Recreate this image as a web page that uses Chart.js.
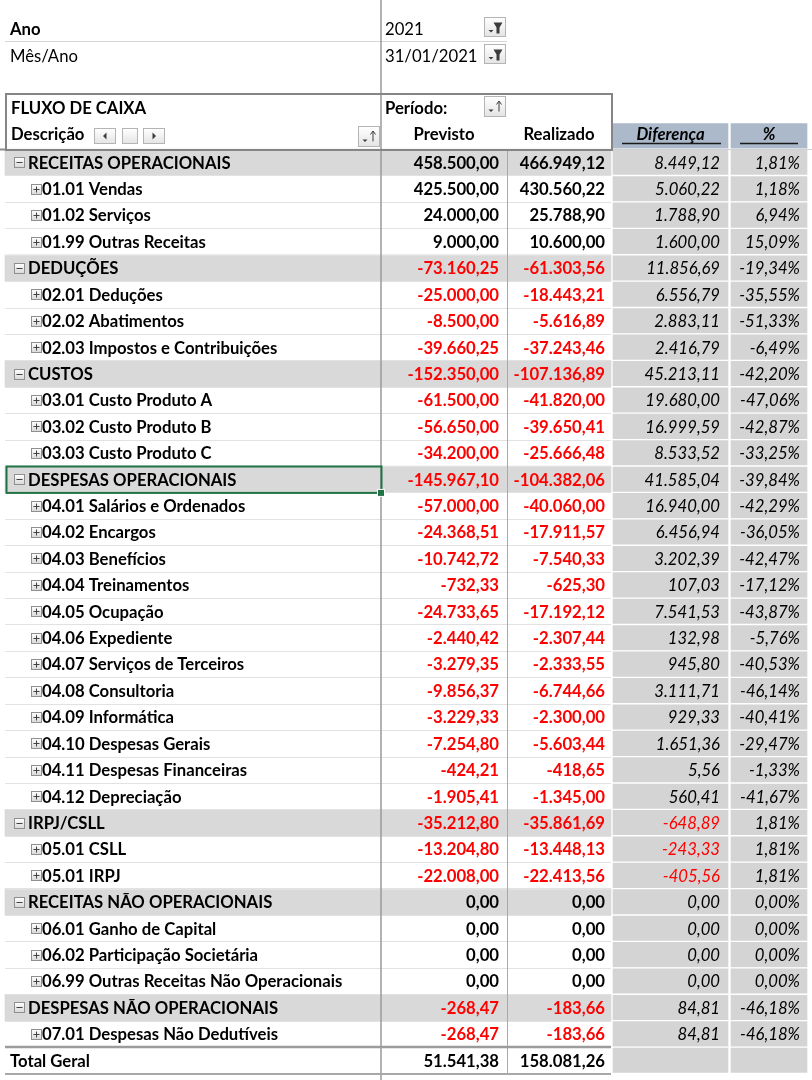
<!DOCTYPE html>
<html lang="pt-BR">
<head>
<meta charset="utf-8">
<title>Fluxo de Caixa</title>
<script src="https://cdn.jsdelivr.net/npm/chart.js@4.4.1/dist/chart.umd.min.js"></script>
<style>
  html, body { margin: 0; padding: 0; background: #fff; }
  #wrap { position: relative; width: 812px; height: 1080px; }
</style>
</head>
<body>
<div id="wrap"><canvas id="fluxoChart"></canvas></div>
<script>
// filtros do relatório e cabeçalhos
const filterLabels = ["Ano", "Mês/Ano"];
const filterValues = ["2021", "31/01/2021"];
const pivotTitle = "FLUXO DE CAIXA";
const rowFieldLabel = "Descrição";
const periodLabel = "Período:";
const columnLabels = ["Previsto", "Realizado", "Diferença", "%"];

// linhas da tabela dinâmica
const categories = [
  "RECEITAS OPERACIONAIS", "01.01 Vendas", "01.02 Serviços", "01.99 Outras Receitas",
  "DEDUÇÕES", "02.01 Deduções", "02.02 Abatimentos", "02.03 Impostos e Contribuições",
  "CUSTOS", "03.01 Custo Produto A", "03.02 Custo Produto B", "03.03 Custo Produto C",
  "DESPESAS OPERACIONAIS", "04.01 Salários e Ordenados", "04.02 Encargos", "04.03 Benefícios",
  "04.04 Treinamentos", "04.05 Ocupação", "04.06 Expediente", "04.07 Serviços de Terceiros",
  "04.08 Consultoria", "04.09 Informática", "04.10 Despesas Gerais", "04.11 Despesas Financeiras",
  "04.12 Depreciação", "IRPJ/CSLL", "05.01 CSLL", "05.01 IRPJ",
  "RECEITAS NÃO OPERACIONAIS", "06.01 Ganho de Capital", "06.02 Participação Societária",
  "06.99 Outras Receitas Não Operacionais", "DESPESAS NÃO OPERACIONAIS",
  "07.01 Despesas Não Dedutíveis", "Total Geral"
];
const rowTypes = [
  "group", "item", "item", "item",
  "group", "item", "item", "item",
  "group", "item", "item", "item",
  "group", "item", "item", "item", "item", "item", "item", "item", "item", "item", "item", "item", "item",
  "group", "item", "item",
  "group", "item", "item", "item",
  "group", "item",
  "total"
];
const previsto = [
  458500.00, 425500.00, 24000.00, 9000.00,
  -73160.25, -25000.00, -8500.00, -39660.25,
  -152350.00, -61500.00, -56650.00, -34200.00,
  -145967.10, -57000.00, -24368.51, -10742.72, -732.33, -24733.65, -2440.42, -3279.35,
  -9856.37, -3229.33, -7254.80, -424.21, -1905.41,
  -35212.80, -13204.80, -22008.00,
  0, 0, 0, 0,
  -268.47, -268.47,
  51541.38
];
const realizado = [
  466949.12, 430560.22, 25788.90, 10600.00,
  -61303.56, -18443.21, -5616.89, -37243.46,
  -107136.89, -41820.00, -39650.41, -25666.48,
  -104382.06, -40060.00, -17911.57, -7540.33, -625.30, -17192.12, -2307.44, -2333.55,
  -6744.66, -2300.00, -5603.44, -418.65, -1345.00,
  -35861.69, -13448.13, -22413.56,
  0, 0, 0, 0,
  -183.66, -183.66,
  158081.26
];
const diferenca = [
  8449.12, 5060.22, 1788.90, 1600.00,
  11856.69, 6556.79, 2883.11, 2416.79,
  45213.11, 19680.00, 16999.59, 8533.52,
  41585.04, 16940.00, 6456.94, 3202.39, 107.03, 7541.53, 132.98, 945.80,
  3111.71, 929.33, 1651.36, 5.56, 560.41,
  -648.89, -243.33, -405.56,
  0, 0, 0, 0,
  84.81, 84.81,
  null
];
const percentual = [
  1.81, 1.18, 6.94, 15.09,
  -19.34, -35.55, -51.33, -6.49,
  -42.20, -47.06, -42.87, -33.25,
  -39.84, -42.29, -36.05, -42.47, -17.12, -43.87, -5.76, -40.53,
  -46.14, -40.41, -29.47, -1.33, -41.67,
  1.81, 1.81, 1.81,
  0, 0, 0, 0,
  -46.18, -46.18,
  null
];
const selectedRow = "DESPESAS OPERACIONAIS";

// layout das colunas (unidades do eixo x = pixels da planilha)
const COL = { left: 5, sep: 381, mid: 507, right: 611, difL: 612, difR: 729, pctL: 730, pctR: 808 };
const FONT = "Lato, 'Open Sans', sans-serif";
const SIZE = 16.7;
const RED = "#ff0000";
const INK = "#000000";

const headerKeys = ["Ano", "Mês/Ano", "", pivotTitle, rowFieldLabel];
const HEADER_ROWS = headerKeys.length;
const yLabels = headerKeys.concat(categories);

function fmtBR(v) {
  const parts = Math.abs(v).toFixed(2).split(".");
  const intPart = parts[0].replace(/\B(?=(\d{3})+(?!\d))/g, ".");
  return (v < 0 ? "-" : "") + intPart + "," + parts[1];
}

const dataRow = i => i >= HEADER_ROWS;
const bandData = yLabels.map((_, i) => dataRow(i) && rowTypes[i - HEADER_ROWS] === "group" ? [COL.left, COL.right] : null);
const difCells = yLabels.map((_, i) => dataRow(i) ? [COL.difL, COL.difR] : null);
const pctCells = yLabels.map((_, i) => dataRow(i) ? [COL.pctL, COL.pctR] : null);
const headDif = yLabels.map((_, i) => i === HEADER_ROWS - 1 ? [COL.difL, COL.difR] : null);
const headPct = yLabels.map((_, i) => i === HEADER_ROWS - 1 ? [COL.pctL, COL.pctR] : null);

function drawToggle(ctx, cx, cy, plus) {
  const s = 10;
  const x0 = Math.round(cx - s / 2) + 0.5, y0 = Math.round(cy - s / 2) + 0.5;
  const g = ctx.createLinearGradient(0, y0, 0, y0 + s);
  g.addColorStop(0, "#ffffff");
  g.addColorStop(1, "#d8d8d8");
  ctx.fillStyle = g;
  ctx.fillRect(x0, y0, s, s);
  ctx.strokeStyle = "#8f8f8f";
  ctx.lineWidth = 1;
  ctx.strokeRect(x0, y0, s, s);
  ctx.strokeStyle = "#404040";
  ctx.beginPath();
  ctx.moveTo(x0 + 2, y0 + s / 2);
  ctx.lineTo(x0 + s - 2, y0 + s / 2);
  if (plus) {
    ctx.moveTo(x0 + s / 2, y0 + 2);
    ctx.lineTo(x0 + s / 2, y0 + s - 2);
  }
  ctx.stroke();
}

function drawButton(ctx, x0, y0, w, h, icon) {
  x0 = Math.round(x0) + 0.5; y0 = Math.round(y0) + 0.5;
  const g = ctx.createLinearGradient(0, y0, 0, y0 + h);
  g.addColorStop(0, "#ffffff");
  g.addColorStop(1, "#e4e4e4");
  ctx.fillStyle = g;
  ctx.fillRect(x0, y0, w, h);
  ctx.strokeStyle = "#b4b4b4";
  ctx.lineWidth = 1;
  ctx.strokeRect(x0, y0, w, h);
  ctx.fillStyle = "#3c3c3c";
  ctx.strokeStyle = "#3c3c3c";
  const cx = x0 + w / 2, cy = y0 + h / 2;
  if (icon === "filter" || icon === "sort") {
    // pequena seta do menu
    ctx.beginPath();
    ctx.moveTo(x0 + 4, cy + 3);
    ctx.lineTo(x0 + 9, cy + 3);
    ctx.lineTo(x0 + 6.5, cy + 5.5);
    ctx.closePath();
    ctx.fill();
  }
  if (icon === "filter") {
    ctx.beginPath();
    ctx.moveTo(x0 + 9, y0 + 5);
    ctx.lineTo(x0 + 18, y0 + 5);
    ctx.lineTo(x0 + 15, y0 + 10);
    ctx.lineTo(x0 + 15, y0 + 16);
    ctx.lineTo(x0 + 12, y0 + 16);
    ctx.lineTo(x0 + 12, y0 + 10);
    ctx.closePath();
    ctx.fill();
  } else if (icon === "sort") {
    ctx.lineWidth = 1;
    ctx.beginPath();
    ctx.moveTo(x0 + 14.5, y0 + 5);
    ctx.lineTo(x0 + 14.5, y0 + h - 5);
    ctx.stroke();
    ctx.beginPath();
    ctx.moveTo(x0 + 12, y0 + 8);
    ctx.lineTo(x0 + 14.5, y0 + 4.5);
    ctx.lineTo(x0 + 17, y0 + 8);
    ctx.stroke();
  } else if (icon === "left" || icon === "right") {
    const d = icon === "left" ? -1 : 1;
    ctx.beginPath();
    ctx.moveTo(cx + 2 * d, cy);
    ctx.lineTo(cx - 1.5 * d, cy - 3.5);
    ctx.lineTo(cx - 1.5 * d, cy + 3.5);
    ctx.closePath();
    ctx.fill();
  }
}

function hLine(ctx, x0, x1, yy, color, w) {
  ctx.strokeStyle = color;
  ctx.lineWidth = w;
  ctx.beginPath();
  ctx.moveTo(x0, yy);
  ctx.lineTo(x1, yy);
  ctx.stroke();
}
function vLine(ctx, xx, y0, y1, color, w) {
  ctx.strokeStyle = color;
  ctx.lineWidth = w;
  ctx.beginPath();
  ctx.moveTo(xx, y0);
  ctx.lineTo(xx, y1);
  ctx.stroke();
}

const pivotPlugin = {
  id: "pivotTable",
  afterDatasetsDraw(chart) {
    const { ctx, scales: { x, y } } = chart;
    const rowH = y.getPixelForValue(1) - y.getPixelForValue(0);
    const cy = i => y.getPixelForValue(i);
    const top = i => Math.round(cy(i) - rowH / 2) + 0.5;
    const px = v => x.getPixelForValue(v);
    const last = yLabels.length - 1;
    const H = chart.height;

    ctx.save();

    // grade das linhas
    for (let i = HEADER_ROWS + 1; i < last; i++) {
      hLine(ctx, px(COL.left), px(COL.right), top(i), "#e2e2e2", 1);
    }
    hLine(ctx, px(COL.left), px(COL.mid), top(1) - 2, "#d6d6d6", 1);
    vLine(ctx, Math.round(px(COL.mid)) + 0.5, top(HEADER_ROWS), top(last) + rowH, "#a8a8a8", 1);
    vLine(ctx, Math.round(px(COL.sep)), 0, H, "#9a9a9a", 1.5);
    hLine(ctx, px(COL.right), chart.width, top(HEADER_ROWS), "#d0d0d0", 1);

    // moldura do cabeçalho
    ctx.strokeStyle = "#858585";
    ctx.lineWidth = 2;
    ctx.strokeRect(px(COL.left) + 1, Math.round(top(3)) - 3, px(COL.right) - px(COL.left), top(HEADER_ROWS) - top(3) + 3);
    hLine(ctx, 0, px(COL.left), top(HEADER_ROWS), "#8c8c8c", 2);

    // Total Geral
    hLine(ctx, px(COL.left), px(COL.right), top(last) - 0.5, "#9c9c9c", 2.5);
    hLine(ctx, px(COL.left), px(COL.right), top(last) + rowH, "#a8a8a8", 2);

    ctx.textBaseline = "middle";
    const txt = (s, xx, yy, font, color, align) => {
      ctx.font = font;
      ctx.fillStyle = color;
      ctx.textAlign = align || "left";
      ctx.fillText(s, xx, yy + 1);
    };
    const bold = "bold " + SIZE + "px " + FONT;
    const normal = SIZE + "px " + FONT;
    const italic = "italic " + SIZE + "px " + FONT;
    const boldItalic = "italic bold " + SIZE + "px " + FONT;

    // filtros
    filterLabels.forEach((lab, i) => {
      txt(lab, px(10), cy(i) - 1.5, i === 0 ? bold : normal, INK);
      txt(filterValues[i], px(385), cy(i) - 1.5, normal, INK);
      drawButton(ctx, px(484), cy(i) - 13, 21, 19, "filter");
    });

    // cabeçalho da tabela dinâmica
    const hr = HEADER_ROWS - 1;
    txt(pivotTitle, px(11), cy(3) - 1.5, bold, INK);
    txt(periodLabel, px(385), cy(3) - 1.5, bold, INK);
    drawButton(ctx, px(484), cy(3) - 13, 21, 20, "sort");
    txt(rowFieldLabel, px(11), cy(hr) - 2, bold, INK);
    drawButton(ctx, px(94), cy(hr) - 8, 21, 15, "left");
    drawButton(ctx, px(122), cy(hr) - 8, 15, 15, "blank");
    drawButton(ctx, px(143), cy(hr) - 8, 21, 15, "right");
    drawButton(ctx, px(358), cy(hr) - 10, 21, 20, "sort");
    txt(columnLabels[0], (px(COL.sep) + px(COL.mid)) / 2, cy(hr) - 2, bold, INK, "center");
    txt(columnLabels[1], (px(COL.mid) + px(COL.right)) / 2, cy(hr) - 2, bold, INK, "center");
    txt(columnLabels[2], (px(COL.difL) + px(COL.difR)) / 2, cy(hr) - 2, boldItalic, INK, "center");
    txt(columnLabels[3], (px(COL.pctL) + px(COL.pctR)) / 2, cy(hr) - 2, boldItalic, INK, "center");
    const ulY = Math.round(cy(hr) + rowH / 2 - 6) + 0.5;
    hLine(ctx, px(COL.difL + 10), px(COL.difR - 8), ulY, "#1a1a1a", 1.5);
    hLine(ctx, px(COL.pctL + 10), px(COL.pctR - 10), ulY, "#1a1a1a", 1.5);

    // linhas de dados
    categories.forEach((name, k) => {
      const i = k + HEADER_ROWS;
      const t = rowTypes[k];
      const yy = cy(i);
      if (t === "group") {
        drawToggle(ctx, px(19), yy, false);
        txt(name, px(28), yy, bold, INK);
      } else if (t === "item") {
        drawToggle(ctx, px(36), yy, true);
        txt(name, px(42), yy, bold, INK);
      } else {
        txt(name, px(10), yy, bold, INK);
      }
      txt(fmtBR(previsto[k]), px(499), yy, bold, previsto[k] < 0 ? RED : INK, "right");
      txt(fmtBR(realizado[k]), px(605), yy, bold, realizado[k] < 0 ? RED : INK, "right");
      if (diferenca[k] !== null) {
        txt(fmtBR(diferenca[k]), px(720), yy, italic, diferenca[k] < 0 ? RED : INK, "right");
      }
      if (percentual[k] !== null) {
        txt(fmtBR(percentual[k]) + "%", px(800), yy, italic, INK, "right");
      }
    });

    // célula selecionada
    const s = categories.indexOf(selectedRow) + HEADER_ROWS;
    ctx.strokeStyle = "#217346";
    ctx.lineWidth = 2;
    ctx.strokeRect(px(COL.left) + 1.5, top(s), px(COL.sep) - px(COL.left) - 1, rowH);
    ctx.fillStyle = "#ffffff";
    ctx.fillRect(px(COL.sep) - 4, top(s) + rowH - 4, 8, 8);
    ctx.fillStyle = "#217346";
    ctx.fillRect(px(COL.sep) - 3, top(s) + rowH - 3, 6, 6);

    ctx.restore();
  }
};

const ctx = document.getElementById("fluxoChart");
new Chart(ctx, {
  type: "bar",
  data: {
    labels: yLabels,
    datasets: [
      { label: "faixa grupo", data: bandData, backgroundColor: "#d9d9d9", borderWidth: 0 },
      { label: "Diferença", data: difCells, backgroundColor: "#d4d4d4", borderColor: "#ffffff", borderWidth: 1, borderSkipped: false },
      { label: "%", data: pctCells, backgroundColor: "#d4d4d4", borderColor: "#ffffff", borderWidth: 1, borderSkipped: false },
      { label: "cab. Diferença", data: headDif, backgroundColor: "#acb9ca", borderColor: "#ffffff", borderWidth: 1, borderSkipped: false },
      { label: "cab. %", data: headPct, backgroundColor: "#acb9ca", borderColor: "#ffffff", borderWidth: 1, borderSkipped: false }
    ]
  },
  options: {
    indexAxis: "y",
    responsive: true,
    maintainAspectRatio: false,
    animation: false,
    events: [],
    layout: { padding: { top: 17, bottom: 6.5, left: 0, right: 0 } },
    plugins: { legend: { display: false }, tooltip: { enabled: false } },
    datasets: { bar: { barPercentage: 1, categoryPercentage: 1, grouped: false } },
    scales: {
      x: { type: "linear", min: 0, max: 812, display: false },
      y: { display: false }
    }
  },
  plugins: [pivotPlugin]
});
</script>
</body>
</html>
